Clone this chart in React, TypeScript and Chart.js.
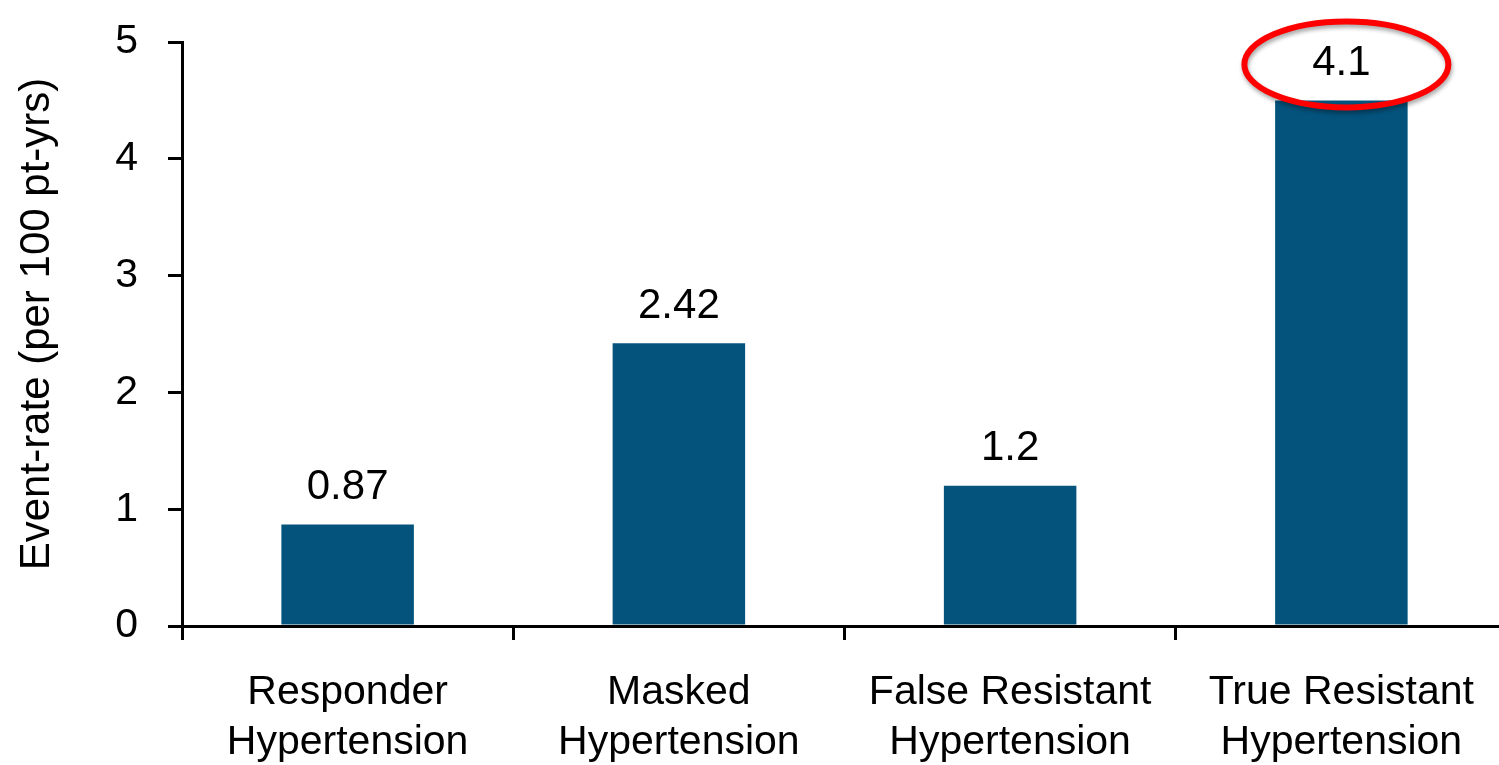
import React, { useEffect, useRef } from "react";
import { Chart, registerables } from "chart.js";

Chart.register(...registerables);

const categories: string[][] = [
  ["Responder", "Hypertension"],
  ["Masked", "Hypertension"],
  ["False Resistant", "Hypertension"],
  ["True Resistant", "Hypertension"],
];
const eventRates: number[] = [0.87, 2.42, 1.2, 4.5];
const valueLabels: string[] = ["0.87", "2.42", "1.2", "4.1"];
const highlightIndex = 3;
const yTitle = "Event-rate (per 100 pt-yrs)";
const yMin = 0;
const yMax = 5;
const yStep = 1;

const FONT = '"Liberation Sans", Arial, Helvetica, sans-serif';
const BAR_COLOR = "#04537D";

const overlayPlugin = {
  id: "overlay",
  afterDatasetsDraw(chart: any) {
    const ctx = chart.ctx;
    const meta = chart.getDatasetMeta(0);
    ctx.save();
    ctx.fillStyle = "#000";
    ctx.font = `42px ${FONT}`;
    ctx.textAlign = "center";
    ctx.textBaseline = "middle";
    meta.data.forEach((bar: any, i: number) => {
      ctx.fillText(valueLabels[i], bar.x, bar.y - 37);
    });
    const hb = meta.data[highlightIndex];
    if (hb) {
      ctx.shadowColor = "rgba(0,0,0,0.35)";
      ctx.shadowBlur = 4;
      ctx.shadowOffsetX = 1;
      ctx.shadowOffsetY = 3;
      ctx.strokeStyle = "#FF0000";
      ctx.lineWidth = 6;
      ctx.beginPath();
      ctx.ellipse(hb.x + 5, hb.y - 36, 102, 43, 0, 0, Math.PI * 2);
      ctx.stroke();
    }
    ctx.restore();
    // y axis title
    const area = chart.chartArea;
    ctx.save();
    ctx.fillStyle = "#000";
    ctx.font = `42px ${FONT}`;
    ctx.textAlign = "center";
    ctx.textBaseline = "middle";
    ctx.translate(37, (area.top + area.bottom) / 2 - 10);
    ctx.rotate(-Math.PI / 2);
    ctx.fillText(yTitle, 0, 0);
    ctx.restore();
  },
};

export default function App() {
  const canvasRef = useRef<HTMLCanvasElement | null>(null);

  useEffect(() => {
    if (!canvasRef.current) return;
    const chart = new Chart(canvasRef.current, {
      type: "bar",
      data: {
        labels: categories,
        datasets: [
          {
            data: eventRates,
            backgroundColor: BAR_COLOR,
            borderWidth: 0,
            categoryPercentage: 1,
            barPercentage: 0.4,
          },
        ],
      },
      options: {
        responsive: false,
        animation: false,
        devicePixelRatio: 1,
        layout: { padding: { top: 42, left: 0, right: 0, bottom: 0 } },
        plugins: {
          legend: { display: false },
          tooltip: { enabled: false },
          title: { display: false },
        },
        scales: {
          x: {
            type: "category",
            offset: true,
            grid: {
              display: true,
              offset: true,
              drawOnChartArea: false,
              drawTicks: true,
              tickLength: 14,
              color: "#000",
              lineWidth: 3,
            },
            border: { display: true, color: "#000", width: 3 },
            ticks: {
              color: "#000",
              padding: 28,
              maxRotation: 0,
              minRotation: 0,
              autoSkip: false,
              font: { family: FONT, size: 41, lineHeight: 1.22 },
            },
            afterFit(scale: any) {
              scale.height = 139;
              scale.paddingLeft = 0;
              scale.paddingRight = 0;
            },
          },
          y: {
            min: yMin,
            max: yMax,
            grid: {
              display: true,
              drawOnChartArea: false,
              drawTicks: true,
              tickLength: 14,
              color: "#000",
              lineWidth: 3,
            },
            border: { display: true, color: "#000", width: 3 },
            ticks: {
              stepSize: yStep,
              color: "#000",
              padding: 30,
              font: { family: FONT, size: 41 },
            },
            afterFit(scale: any) {
              scale.width = 182;
              scale.paddingTop = 0;
              scale.paddingBottom = 0;
            },
          },
        },
      },
      plugins: [overlayPlugin],
    });
    return () => chart.destroy();
  }, []);

  return (
    <div
      style={{
        position: "absolute",
        left: 0,
        top: 0,
        width: 1499,
        height: 765,
        overflow: "hidden",
        background: "#fff",
      }}
    >
      <canvas
        ref={canvasRef}
        width={1507}
        height={765}
        style={{ display: "block", width: 1507, height: 765 }}
      />
    </div>
  );
}
